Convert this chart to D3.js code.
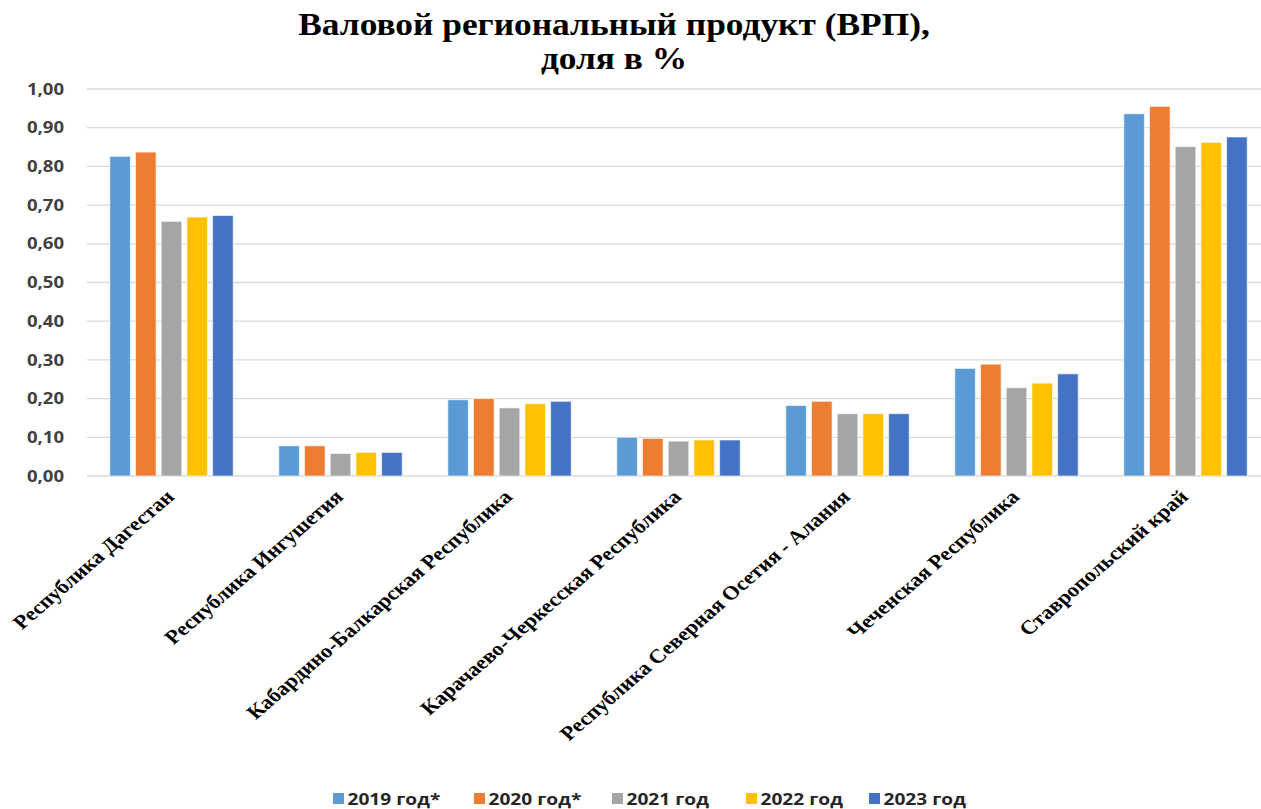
<!DOCTYPE html>
<html>
<head>
<meta charset="utf-8">
<script src="https://cdn.jsdelivr.net/npm/d3@7"></script>
<style>
  body { margin: 0; background: #fff; }
  svg { display: block; }
</style>
</head>
<body>
<div class="chart"></div>
<script>
// регионы
const regions = ['Республика Дагестан', 'Республика Ингушетия', 'Кабардино-Балкарская Республика',
  'Карачаево-Черкесская Республика', 'Республика Северная Осетия - Алания', 'Чеченская Республика',
  'Ставропольский край']
const years = ['2019 год*', '2020 год*', '2021 год', '2022 год', '2023 год']
const colors = ['#5b9bd5', '#ed7d31', '#a5a5a5', '#ffc000', '#4472c4']

// доли по годам, в порядке регионов
const v2019 = [0.826, 0.078, 0.197, 0.100, 0.182, 0.278, 0.936]
const v2020 = [0.837, 0.078, 0.200, 0.097, 0.193, 0.289, 0.955]
const v2021 = [0.658, 0.058, 0.176, 0.090, 0.161, 0.228, 0.851]
const v2022 = [0.669, 0.061, 0.187, 0.093, 0.161, 0.240, 0.862]
const v2023 = [0.673, 0.061, 0.193, 0.093, 0.161, 0.264, 0.876]
const yTicks = [0, 0.1, 0.2, 0.3, 0.4, 0.5, 0.6, 0.7, 0.8, 0.9, 1.0]

const series = [v2019, v2020, v2021, v2022, v2023]
const data = regions.map((r, i) => ({region: r, values: series.map((s, j) => ({year: years[j], v: s[i]}))}))

const width = 1261
const height = 809
const sx = 1.16  // картинка растянута по горизонтали
const svg = d3.select('.chart').append('svg').attr('width', width).attr('height', height)

const x = d3.scaleBand().domain(regions).range([87, 1270]).paddingInner(0.27).paddingOuter(0.135)
const xi = d3.scaleBand().domain(years).range([0, x.bandwidth()]).paddingInner(0.2)
const y = d3.scaleLinear().domain([0, 1]).range([476, 89])

// сетка
svg.selectAll('line.grid')
  .data(yTicks)
  .enter()
  .append('line')
  .attr('x1', 87)
  .attr('x2', width)
  .attr('y1', d => y(d))
  .attr('y2', d => y(d))
  .attr('stroke', '#d9d9d9')
  .attr('stroke-width', 1.3)

const yAxis = svg.append('g')
  .attr('transform', 'translate(64,0) scale(' + sx + ',1)')
  .call(d3.axisLeft(y).tickValues(yTicks).tickSize(0).tickFormat(d => d3.format('.2f')(d).replace('.', ',')))
yAxis.select('.domain').remove()
yAxis.selectAll('text')
  .attr('font-family', 'Open Sans, sans-serif')
  .attr('font-weight', 'bold')
  .attr('font-size', 16)
  .attr('fill', '#404040')
  .attr('x', 0)

const groups = svg.selectAll('g.region')
  .data(data)
  .enter()
  .append('g')
  .attr('transform', d => 'translate(' + x(d.region) + ',0)')

groups.selectAll('rect')
  .data(d => d.values)
  .enter()
  .append('rect')
  .attr('x', d => xi(d.year))
  .attr('y', d => y(d.v))
  .attr('width', xi.bandwidth())
  .attr('height', d => y(0) - y(d.v))
  .attr('fill', (d, i) => colors[i])
  .attr('stroke', '#fff')
  .attr('stroke-opacity', 0.6)
  .attr('stroke-width', 1)

// подписи регионов
svg.selectAll('text.cat')
  .data(regions)
  .enter()
  .append('text')
  .attr('class', 'cat')
  .attr('transform', d => 'translate(' + (x(d) + x.bandwidth() / 2 + 4) + ',498) scale(' + sx + ',1) rotate(-45)')
  .attr('text-anchor', 'end')
  .attr('font-family', 'Liberation Serif, Times New Roman, serif')
  .attr('font-weight', 'bold')
  .attr('font-size', 19.5)
  .attr('fill', '#000')
  .text(d => d)

// заголовок
const title = svg.append('g')
  .attr('transform', 'translate(614,0) scale(' + sx + ',1)')
title.append('text')
  .attr('x', 0)
  .attr('y', 35)
  .attr('text-anchor', 'middle')
  .attr('font-family', 'Liberation Serif, Times New Roman, serif')
  .attr('font-weight', 'bold')
  .attr('font-size', 30.5)
  .text('Валовой региональный продукт (ВРП),')
title.append('text')
  .attr('x', 0)
  .attr('y', 69)
  .attr('text-anchor', 'middle')
  .attr('font-family', 'Liberation Serif, Times New Roman, serif')
  .attr('font-weight', 'bold')
  .attr('font-size', 30.5)
  .text('доля в %')

// легенда
const legendX = [333, 474, 612, 746, 869]
const legend = svg.selectAll('g.legend')
  .data(years)
  .enter()
  .append('g')
  .attr('transform', (d, i) => 'translate(' + legendX[i] + ',793) scale(' + sx + ',1)')
legend.append('rect')
  .attr('width', 9.5)
  .attr('height', 11)
  .attr('fill', (d, i) => colors[i])
legend.append('text')
  .attr('x', 12.5)
  .attr('y', 12)
  .attr('font-family', 'Open Sans, sans-serif')
  .attr('font-weight', 'bold')
  .attr('font-size', 16.5)
  .attr('fill', '#262626')
  .text(d => d)
</script>
</body>
</html>
